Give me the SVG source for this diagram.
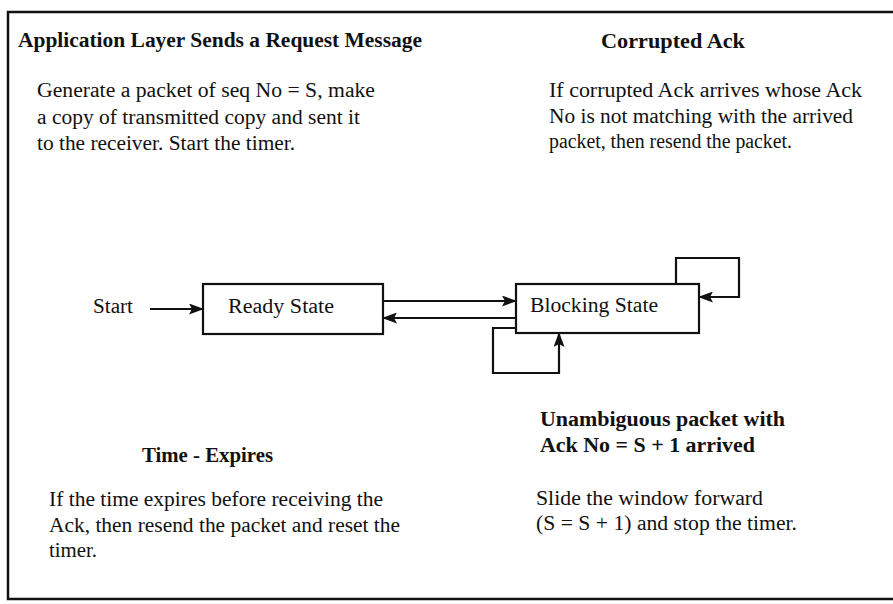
<svg xmlns="http://www.w3.org/2000/svg" width="893" height="604" viewBox="0 0 893 604">
<defs>
<style>
text{font-family:"Liberation Serif","Times New Roman",serif;font-size:20.5px;fill:#111}
.b{font-weight:bold}
.box{fill:#fff;stroke:#111;stroke-width:2.2}
.c{fill:none;stroke:#111;stroke-width:2.2}
</style>
<marker id="ah" viewBox="0 0 15 11" refX="14" refY="5.5" markerWidth="15" markerHeight="11" markerUnits="userSpaceOnUse" orient="auto">
<path d="M0,0 L15,5.5 L0,11 L3,5.5 Z" fill="#111"/>
</marker>
</defs>
<rect x="0" y="0" width="893" height="604" fill="#fff"/>
<rect x="8" y="12" width="900" height="587" fill="none" stroke="#111" stroke-width="2.5"/>

<g id="notes">
<text class="b" x="18" y="47" textLength="404" lengthAdjust="spacingAndGlyphs">Application Layer Sends a Request Message</text>
<text x="37" y="97" textLength="338" lengthAdjust="spacingAndGlyphs">Generate a packet of seq No = S, make</text>
<text x="37" y="124" textLength="323" lengthAdjust="spacingAndGlyphs">a copy of transmitted copy and sent it</text>
<text x="37" y="150" textLength="258" lengthAdjust="spacingAndGlyphs">to the receiver. Start the timer.</text>

<text class="b" x="601" y="48" textLength="144" lengthAdjust="spacingAndGlyphs">Corrupted Ack</text>
<text x="549" y="97" textLength="313" lengthAdjust="spacingAndGlyphs">If corrupted Ack arrives whose Ack</text>
<text x="549" y="123" textLength="304" lengthAdjust="spacingAndGlyphs">No is not matching with the arrived</text>
<text x="549" y="148" textLength="243" lengthAdjust="spacingAndGlyphs">packet, then resend the packet.</text>

<text class="b" x="142" y="462" textLength="131" lengthAdjust="spacingAndGlyphs">Time - Expires</text>
<text x="49" y="506" textLength="334" lengthAdjust="spacingAndGlyphs">If the time expires before receiving the</text>
<text x="49" y="532" textLength="351" lengthAdjust="spacingAndGlyphs">Ack, then resend the packet and reset the</text>
<text x="49" y="557" textLength="48" lengthAdjust="spacingAndGlyphs">timer.</text>

<text class="b" x="540" y="426" textLength="245" lengthAdjust="spacingAndGlyphs">Unambiguous packet with</text>
<text class="b" x="540" y="452" textLength="215" lengthAdjust="spacingAndGlyphs">Ack No = S + 1 arrived</text>
<text x="536" y="505" textLength="227" lengthAdjust="spacingAndGlyphs">Slide the window forward</text>
<text x="536" y="530" textLength="261" lengthAdjust="spacingAndGlyphs">(S = S + 1) and stop the timer.</text>

<text x="93" y="313" textLength="40" lengthAdjust="spacingAndGlyphs">Start</text>
</g>

<g id="ready">
<rect class="box" x="203" y="284" width="180" height="50"/>
<text x="228" y="313" textLength="106" lengthAdjust="spacingAndGlyphs">Ready State</text>
</g>

<g id="blocking">
<rect class="box" x="516" y="284" width="183" height="49"/>
<text x="530" y="312" textLength="128" lengthAdjust="spacingAndGlyphs">Blocking State</text>
</g>

<g id="connectors">
<line class="c" x1="150" y1="309" x2="203" y2="309" marker-end="url(#ah)"/>
<line class="c" x1="383" y1="301" x2="516" y2="301" marker-end="url(#ah)"/>
<line class="c" x1="516" y1="318" x2="383" y2="318" marker-end="url(#ah)"/>
<polyline class="c" points="676,284 676,258 739,258 739,297 699,297" marker-end="url(#ah)"/>
<polyline class="c" points="516,328 493,328 493,373 559,373 559,333" marker-end="url(#ah)"/>
</g>
</svg>
